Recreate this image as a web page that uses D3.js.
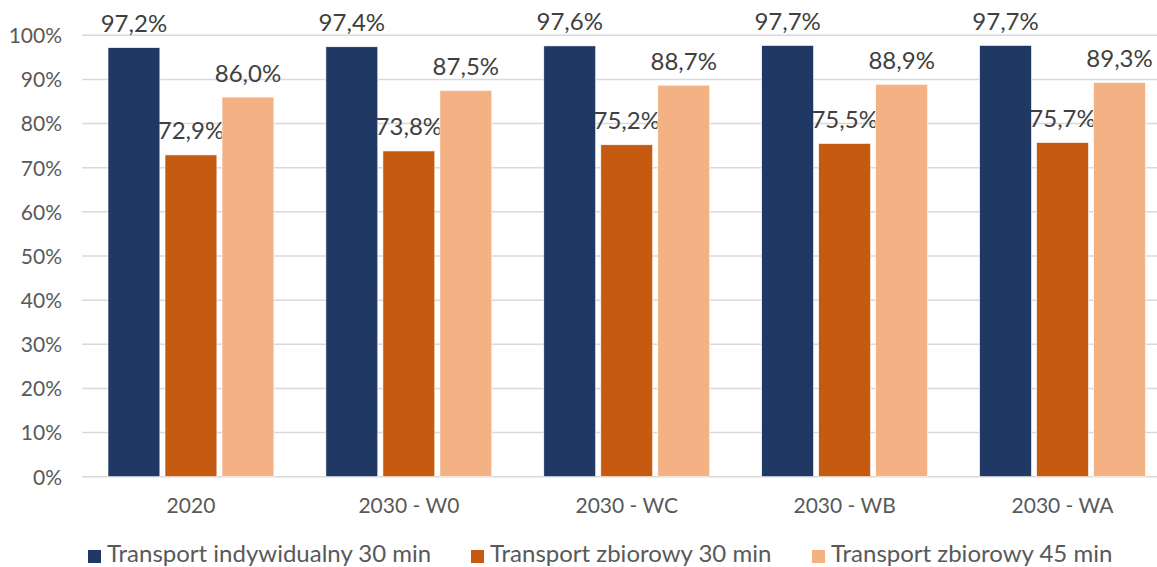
<!DOCTYPE html>
<html><head><meta charset="utf-8">
<script src="https://cdn.jsdelivr.net/npm/d3@7"></script>
<style>html,body{margin:0;padding:0;background:#fff;overflow:hidden}</style>
</head><body>
<svg id="c" width="1157" height="567"></svg>
<script>
const categories = ["2020", "2030 - W0", "2030 - WC", "2030 - WB", "2030 - WA"];
const seriesNames = ["Transport indywidualny 30 min", "Transport zbiorowy 30 min", "Transport zbiorowy 45 min"];
const indywidualny30 = [97.2, 97.4, 97.6, 97.7, 97.7];
const zbiorowy30 = [72.9, 73.8, 75.2, 75.5, 75.7];
const zbiorowy45 = [86.0, 87.5, 88.7, 88.9, 89.3];
const yTicks = [0, 10, 20, 30, 40, 50, 60, 70, 80, 90, 100];
const colors = ["#203864", "#C55A11", "#F4B183"];

const seriesValues = [indywidualny30, zbiorowy30, zbiorowy45];
const svg = d3.select("#c");
const font = "Lato, 'Open Sans', sans-serif";

const x0 = d3.scaleBand().domain(categories).range([82, 1171.5]).paddingInner(0).paddingOuter(0);
const x1 = d3.scaleBand().domain(seriesNames).range([26, x0.bandwidth() - 26]).paddingInner(0.09).paddingOuter(0);
const y = d3.scaleLinear().domain([0, 100]).range([476.7, 35.3]);

// gridlines
svg.append("g").selectAll("line").data(yTicks).join("line")
  .attr("x1", 82).attr("x2", 1157)
  .attr("y1", d => y(d)).attr("y2", d => y(d))
  .attr("stroke", "#d9d9d9").attr("stroke-width", 1.5);

// y axis
const yAxis = svg.append("g").attr("transform", "translate(70,0)")
  .call(d3.axisLeft(y).tickValues(yTicks).tickFormat(d => d + "%").tickSize(0).tickPadding(0));
yAxis.select(".domain").remove();
yAxis.selectAll("text").attr("font-family", font).attr("font-size", 21).attr("fill", "#595959").attr("dy", "0.35em").attr("x", -8);

// x axis labels
const xAxis = svg.append("g").attr("transform", "translate(0,476.7)")
  .call(d3.axisBottom(x0).tickSize(0).tickPadding(0));
xAxis.select(".domain").remove();
xAxis.selectAll("text").attr("font-family", font).attr("font-size", 21).attr("fill", "#595959").attr("dy", 0).attr("y", 36.5);

// bars
const groups = svg.append("g").selectAll("g").data(categories).join("g")
  .attr("transform", d => `translate(${x0(d)},0)`);
groups.each(function(cat, ci) {
  const g = d3.select(this);
  seriesNames.forEach((s, si) => {
    const v = seriesValues[si][ci];
    g.append("rect")
      .attr("x", x1(s)).attr("width", x1.bandwidth())
      .attr("y", y(v)).attr("height", y(0) - y(v))
      .attr("fill", colors[si]).attr("stroke", "#fff").attr("stroke-width", 0.6);
    g.append("text")
      .attr("x", x1(s) + x1.bandwidth() / 2)
      .attr("y", y(v) - 15.5)
      .attr("text-anchor", "middle")
      .attr("font-family", font).attr("font-size", 24).attr("fill", "#404040")
      .text(v.toFixed(1).replace(".", ",") + "%");
  });
});

// legend
const legendX = [88, 471, 812];
const leg = svg.append("g").selectAll("g").data(seriesNames).join("g")
  .attr("transform", (d, i) => `translate(${legendX[i]},0)`);
leg.append("rect").attr("x", 0).attr("y", 550).attr("width", 13).attr("height", 13)
  .attr("fill", (d, i) => colors[i]);
leg.append("text").attr("x", 19).attr("y", 562)
  .attr("font-family", font).attr("font-size", 24).attr("fill", "#595959")
  .text(d => d);
</script>
</body></html>
